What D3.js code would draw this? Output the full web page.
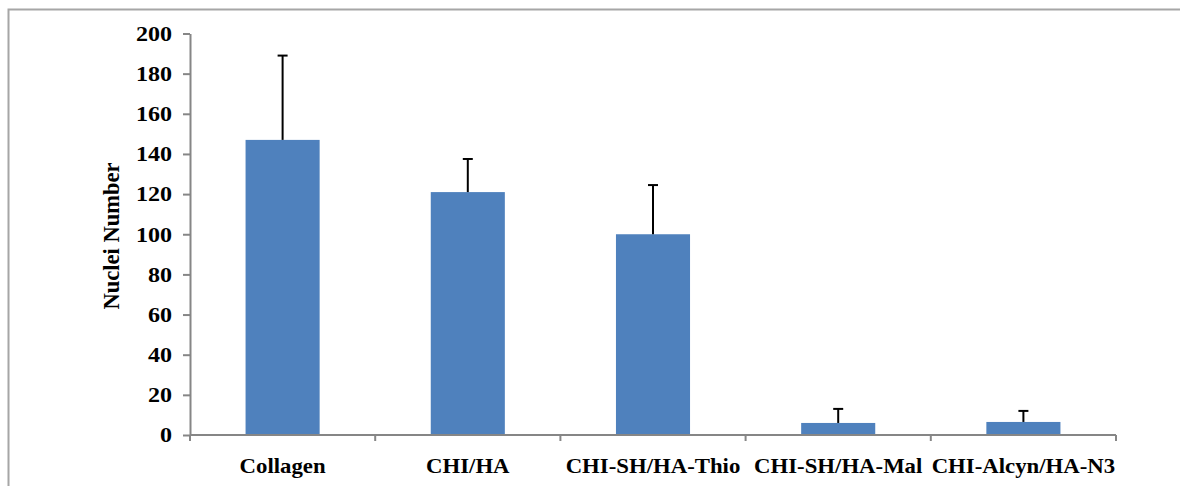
<!DOCTYPE html>
<html><head><meta charset="utf-8">
<script src="https://cdn.jsdelivr.net/npm/d3@7"></script>
<style>body{margin:0;background:#fff}svg{display:block}</style>
</head><body>
<script>
const categories = ["Collagen","CHI/HA","CHI-SH/HA-Thio","CHI-SH/HA-Mal","CHI-Alcyn/HA-N3"];
const values = [147, 121, 100, 6, 6.5];
const errors = [42, 16.5, 24.5, 7, 5.5];
const yTicks = [0,20,40,60,80,100,120,140,160,180,200];
const yLabel = "Nuclei Number";

const W=1180,H=486;
const svg=d3.select("body").append("svg").attr("width",W).attr("height",H);
const font="'Liberation Serif','Times New Roman',serif";
const FS=21.5;

svg.append("rect").attr("x",8.5).attr("y",9.5).attr("width",W+20).attr("height",H+20)
  .attr("fill","none").attr("stroke","#a6a6a6").attr("stroke-width",2);

const x=d3.scaleBand().domain(categories).range([190,1116]).paddingInner(0).paddingOuter(0);
const y=d3.scaleLinear().domain([0,200]).range([435,33.5]);
const bw=x.bandwidth()*0.4;

const g=svg.append("g");
g.selectAll("rect.bar").data(categories).join("rect").attr("class","bar")
  .attr("x",d=>x(d)+x.bandwidth()/2-bw/2).attr("width",bw)
  .attr("y",(d,i)=>y(values[i])).attr("height",(d,i)=>y(0)-y(values[i]))
  .attr("fill","#4f81bd");

categories.forEach((c,i)=>{
  const cx=x(c)+x.bandwidth()/2;
  g.append("line").attr("x1",cx).attr("x2",cx).attr("y1",y(values[i])).attr("y2",y(values[i]+errors[i]))
    .attr("stroke","#000").attr("stroke-width",2);
  g.append("line").attr("x1",cx-5).attr("x2",cx+5).attr("y1",y(values[i]+errors[i])).attr("y2",y(values[i]+errors[i]))
    .attr("stroke","#000").attr("stroke-width",2);
});

// y axis
const ya=svg.append("g").attr("transform","translate(190,0)")
  .call(d3.axisLeft(y).tickValues(yTicks).tickSize(7).tickSizeOuter(0).tickFormat(""));
ya.select(".domain").attr("stroke","#868686").attr("stroke-width",2);
ya.selectAll(".tick line").attr("stroke","#868686").attr("stroke-width",2);
svg.append("g").selectAll("text").data(yTicks).join("text")
  .attr("transform",d=>`translate(172,${y(d)}) scale(1.12,1)`)
  .attr("dy","0.34em").attr("text-anchor","end").attr("font-family",font).attr("font-weight","bold")
  .attr("font-size",FS).attr("fill","#000").text(d=>d);

// x axis
const xa=svg.append("g").attr("transform","translate(0,435)");
xa.append("line").attr("x1",190).attr("x2",1116).attr("stroke","#868686").attr("stroke-width",2);
const bounds=categories.map(c=>x(c)).concat([x.range()[1]]);
xa.selectAll("line.tk").data(bounds).join("line").attr("class","tk")
  .attr("x1",d=>d).attr("x2",d=>d).attr("y1",0).attr("y2",6)
  .attr("stroke","#868686").attr("stroke-width",2);
xa.selectAll("text").data(categories).join("text")
  .attr("transform",d=>`translate(${x(d)+x.bandwidth()/2},38) scale(1.06,1)`)
  .attr("text-anchor","middle").attr("font-family",font).attr("font-weight","bold")
  .attr("font-size",FS).attr("fill","#000").text(d=>d);

svg.append("text").attr("transform","translate(119,236) rotate(-90)")
  .attr("text-anchor","middle").attr("font-family",font).attr("font-weight","bold")
  .attr("font-size",22.5).attr("fill","#000").text(yLabel);
</script>
</body></html>
